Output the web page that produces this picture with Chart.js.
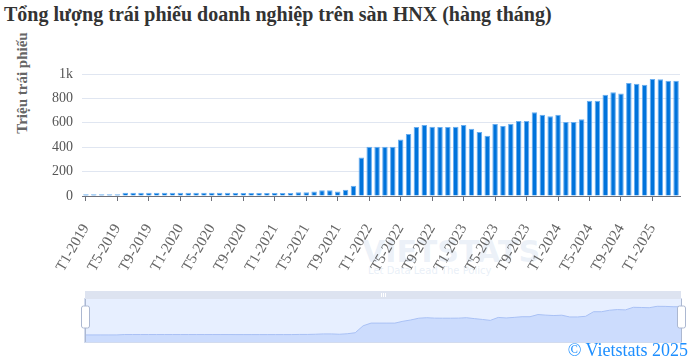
<!DOCTYPE html>
<html>
<head>
<meta charset="utf-8">
<script src="https://cdn.jsdelivr.net/npm/chart.js@4/dist/chart.umd.min.js"></script>
<style>
  body { margin: 0; background: #fff; }
  #wrap { position: relative; width: 692px; height: 363px; overflow: hidden; font-family: "Liberation Serif", "Times New Roman", serif; }
  #main { position: absolute; left: 0; top: 0; }
  #nav { position: absolute; left: 78px; top: 288px; }
  .title { position: absolute; left: 4px; top: 3px; font-weight: bold; font-size: 20px; color: #333; white-space: nowrap; }
  .ytitle { position: absolute; left: 22px; top: 83px; transform: translate(-50%, -50%) rotate(-90deg); font-weight: bold; font-size: 15px; color: #666; white-space: nowrap; }
  .copy { position: absolute; right: 4px; top: 340px; font-size: 18px; color: #1e8fff; white-space: nowrap; }
  .wm1 { position: absolute; left: 362px; top: 234px; font-family: "DejaVu Sans", sans-serif; font-weight: bold; font-size: 30px; color: rgba(205, 220, 238, 0.4); white-space: nowrap; }
  .wm2 { position: absolute; left: 368px; top: 265px; font-family: "DejaVu Sans", sans-serif; font-size: 10px; color: rgba(205, 220, 238, 0.45); white-space: nowrap; }
</style>
</head>
<body>
<div id="wrap">
  <div class="wm1">VIETSTATS</div>
  <div class="wm2">Let Data Lead The Policy</div>
  <div class="title">Tổng lượng trái phiếu doanh nghiệp trên sàn HNX (hàng tháng)</div>
  <div class="ytitle">Triệu trái phiếu</div>
  <canvas id="main" width="692" height="290"></canvas>
  <canvas id="nav" width="610" height="56"></canvas>
  <div class="copy">© Vietstats 2025</div>
</div>
<script>
// months T1-2019 .. T4-2025
var labels = [
  'T1-2019','T2-2019','T3-2019','T4-2019','T5-2019','T6-2019','T7-2019','T8-2019','T9-2019','T10-2019','T11-2019','T12-2019',
  'T1-2020','T2-2020','T3-2020','T4-2020','T5-2020','T6-2020','T7-2020','T8-2020','T9-2020','T10-2020','T11-2020','T12-2020',
  'T1-2021','T2-2021','T3-2021','T4-2021','T5-2021','T6-2021','T7-2021','T8-2021','T9-2021','T10-2021','T11-2021','T12-2021',
  'T1-2022','T2-2022','T3-2022','T4-2022','T5-2022','T6-2022','T7-2022','T8-2022','T9-2022','T10-2022','T11-2022','T12-2022',
  'T1-2023','T2-2023','T3-2023','T4-2023','T5-2023','T6-2023','T7-2023','T8-2023','T9-2023','T10-2023','T11-2023','T12-2023',
  'T1-2024','T2-2024','T3-2024','T4-2024','T5-2024','T6-2024','T7-2024','T8-2024','T9-2024','T10-2024','T11-2024','T12-2024',
  'T1-2025','T2-2025','T3-2025','T4-2025'
];

// triệu trái phiếu
var values = [
  14, 14, 14, 14, 14, 26, 26, 26, 26, 26, 26, 26,
  26, 26, 26, 26, 26, 26, 26, 25, 25, 25, 25, 25,
  25, 25, 25, 30, 30, 36, 47, 47, 36, 52, 85, 316,
  404, 404, 404, 404, 464, 508, 566, 582, 568, 566, 566, 568,
  582, 552, 525, 494, 591, 574, 593, 615, 615, 687, 667, 654,
  665, 607, 607, 629, 780, 780, 829, 851, 840, 926, 920, 912,
  959, 956, 945, 945
];

var yTicks = [0, 200, 400, 600, 800, 1000];

var axisGray = '#6e7079';

var chart = new Chart(document.getElementById('main').getContext('2d'), {
  type: 'bar',
  data: {
    labels: labels,
    datasets: [{
      label: 'Tổng lượng trái phiếu',
      data: values,
      backgroundColor: '#0073db',
      borderColor: '#6aaef0',
      borderWidth: 1,
      categoryPercentage: 0.7,
      barPercentage: 1
    }]
  },
  options: {
    responsive: false,
    animation: false,
    events: [],
    layout: { padding: { top: 74, right: 12, left: 0, bottom: 0 } },
    plugins: { legend: { display: false }, tooltip: { enabled: false } },
    scales: {
      x: {
        afterFit: function (s) { s.height = 94; s.paddingLeft = 0; s.paddingRight = 0; },
        grid: {
          offset: false,
          drawOnChartArea: false,
          drawTicks: true,
          tickLength: 5,
          tickColor: function (c) { return c.index % 4 === 0 ? axisGray : 'rgba(0,0,0,0)'; }
        },
        border: { color: axisGray, width: 1 },
        ticks: {
          autoSkip: false,
          minRotation: 60,
          maxRotation: 60,
          padding: 20,
          color: '#666',
          font: { family: '"Liberation Serif", serif', size: 15 },
          callback: function (v, i) { return i % 4 === 0 ? labels[i] : ''; }
        }
      },
      y: {
        min: yTicks[0],
        max: yTicks[yTicks.length - 1],
        afterFit: function (s) { s.width = 82; },
        afterBuildTicks: function (s) { s.ticks = yTicks.map(function (v) { return { value: v }; }); },
        grid: { color: '#e0e6f1', drawTicks: false },
        border: { display: false },
        ticks: {
          padding: 9,
          color: '#555',
          font: { family: '"Liberation Serif", serif', size: 14 },
          callback: function (v) { return v === 1000 ? '1k' : v; }
        }
      }
    }
  }
});

// data zoom slider look-alike
var sliderPlugin = {
  id: 'slider',
  beforeDraw: function (c) {
    var ctx = c.ctx, a = c.chartArea;
    ctx.save();
    ctx.fillStyle = 'rgba(135,175,255,0.2)';
    ctx.fillRect(a.left, a.top, a.right - a.left, a.bottom - a.top);
    ctx.strokeStyle = '#d2dbee';
    ctx.lineWidth = 1;
    ctx.strokeRect(a.left - 0.5, a.top - 0.5, a.right - a.left + 1, a.bottom - a.top + 1);
    // move handle bar
    ctx.fillStyle = '#dde3f0';
    ctx.fillRect(a.left, a.top - 8, a.right - a.left, 8);
    ctx.strokeStyle = '#ffffff';
    var mid = (a.left + a.right) / 2;
    for (var k = -1; k <= 1; k++) {
      ctx.beginPath();
      ctx.moveTo(mid + k * 2 + 0.5, a.top - 6);
      ctx.lineTo(mid + k * 2 + 0.5, a.top - 2);
      ctx.stroke();
    }
    ctx.restore();
  },
  afterDraw: function (c) {
    var ctx = c.ctx, a = c.chartArea;
    ctx.save();
    [a.left, a.right].forEach(function (x) {
      ctx.strokeStyle = '#acb8d1';
      ctx.lineWidth = 1;
      ctx.beginPath();
      ctx.moveTo(Math.round(x) + 0.5, a.top);
      ctx.lineTo(Math.round(x) + 0.5, a.bottom);
      ctx.stroke();
      ctx.fillStyle = '#ffffff';
      ctx.beginPath();
      if (ctx.roundRect) ctx.roundRect(x - 3.5, a.top + 7, 8, 22, 2);
      else ctx.rect(x - 3.5, a.top + 7, 8, 22);
      ctx.fill();
      ctx.stroke();
    });
    ctx.restore();
  }
};

var nav = new Chart(document.getElementById('nav').getContext('2d'), {
  type: 'line',
  data: {
    labels: labels,
    datasets: [{
      data: values,
      borderColor: '#a9c1f5',
      borderWidth: 1,
      backgroundColor: 'rgba(143,176,247,0.3)',
      fill: 'start',
      pointRadius: 0,
      tension: 0
    }]
  },
  options: {
    responsive: false,
    animation: false,
    events: [],
    layout: { padding: { top: 11, left: 7, right: 7, bottom: 2 } },
    plugins: { legend: { display: false }, tooltip: { enabled: false } },
    scales: {
      x: { display: false, offset: false },
      y: { display: false, min: -220, max: 1200 }
    }
  },
  plugins: [sliderPlugin]
});
</script>
</body>
</html>
